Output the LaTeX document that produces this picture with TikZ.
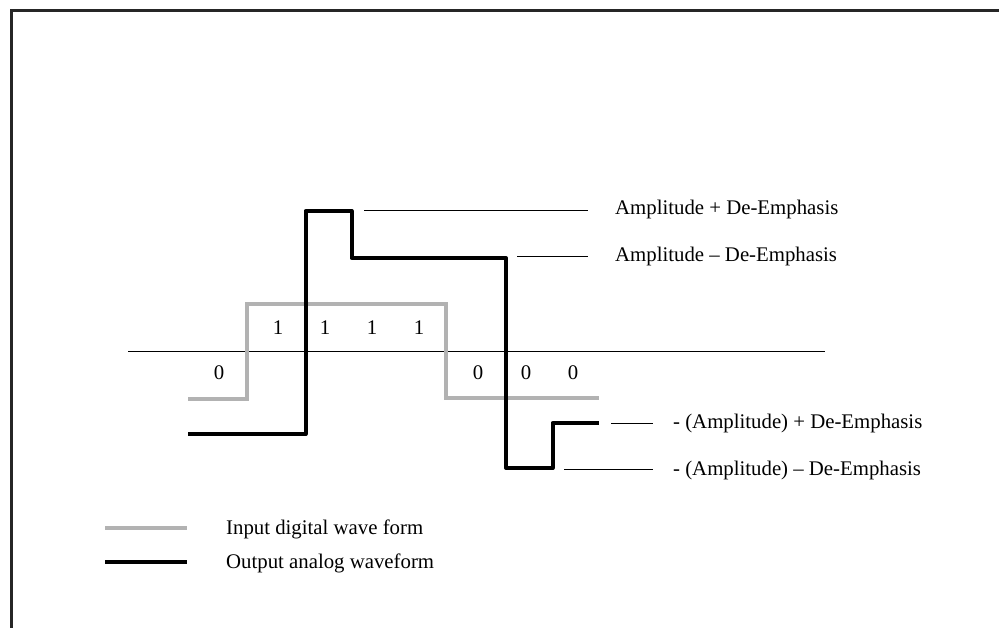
\documentclass[tikz,border=0pt]{standalone}
\usepackage{fontspec}
\setmainfont{Liberation Serif}
\begin{document}
\begin{tikzpicture}[x=1pt,y=-1pt,
  frame/.style={line width=3pt,black!85},
  axis/.style={line width=1pt},
  inwave/.style={line width=4pt,black!30},
  outwave/.style={line width=4pt,black,line join=round},
  lead/.style={line width=1pt},
  lbl/.style={font=\fontsize{20.8}{25}\selectfont,inner sep=0pt,anchor=base west},
  digit/.style={font=\fontsize{20.8}{25}\selectfont,inner sep=0pt,anchor=base}]
\useasboundingbox (0,0) rectangle (999,628);
% frame
\draw[frame] (11,631) -- (11,11) -- (1002,11);
% axis
\coordinate (axL) at (128,352);
\coordinate (axR) at (825,352);
\draw[axis] (axL) -- (axR);
% input waveform
\draw[inwave] (188,399) -- (246.5,399) -- (246.5,304) -- (446,304) -- (446,398) -- (599,398);
% output waveform
\draw[outwave] (188,434) -- (305.5,434) -- (305.5,211) -- (351.5,211) -- (351.5,258) -- (506,258) -- (506,468) -- (552.5,468) -- (552.5,423) -- (599,423);
% digits
\node[digit] (d0) at (219,380) {0};
\node[digit] (d1) at (278,335) {1};
\node[digit] (d2) at (325,335) {1};
\node[digit] (d3) at (372,335) {1};
\node[digit] (d4) at (419,335) {1};
\node[digit] (d5) at (478,380) {0};
\node[digit] (d6) at (526,380) {0};
\node[digit] (d7) at (573,380) {0};
% labels
\node[lbl] (t1) at (615,215) {Amplitude + De-Emphasis};
\node[lbl] (t2) at (615,262) {Amplitude -- De-Emphasis};
\node[lbl] (t3) at (673,428) {- (Amplitude) + De-Emphasis};
\node[lbl] (t4) at (673,475) {- (Amplitude) -- De-Emphasis};
\coordinate (a1) at (364,211); \coordinate (b1) at (588,211);
\coordinate (a2) at (517,257); \coordinate (b2) at (588,257);
\coordinate (a3) at (611,423); \coordinate (b3) at (653,423);
\coordinate (a4) at (564,469); \coordinate (b4) at (653,469);
\draw[lead] (a1) -- (b1);
\draw[lead] (a2) -- (b2);
\draw[lead] (a3) -- (b3);
\draw[lead] (a4) -- (b4);
% legend
\coordinate (g1) at (105,528); \coordinate (g2) at (187,528);
\coordinate (k1) at (105,562); \coordinate (k2) at (187,562);
\draw[inwave] (g1) -- (g2);
\draw[outwave,line join=miter] (k1) -- (k2);
\node[lbl] (l1) at (226,534) {Input digital wave form};
\node[lbl] (l2) at (226,568) {Output analog waveform};
\end{tikzpicture}
\end{document}
